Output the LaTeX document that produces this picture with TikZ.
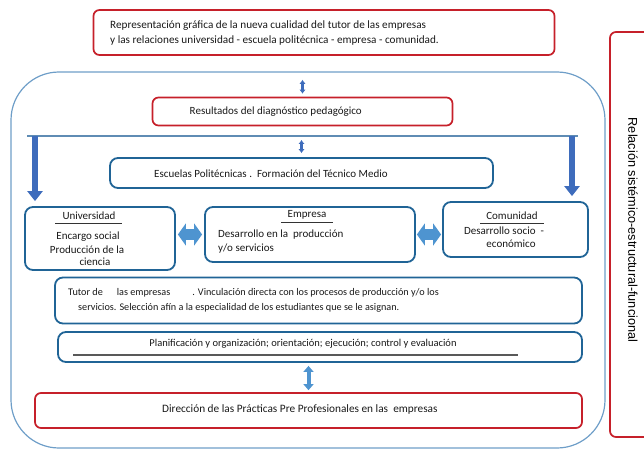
\documentclass[tikz,border=0pt]{standalone}
\usepackage{fontspec}
\setmainfont{Carlito}
\newfontfamily\arialfont{Liberation Sans}
\usetikzlibrary{arrows.meta}

\definecolor{rojocaja}{RGB}{198,32,42}
\definecolor{azulcaja}{RGB}{32,100,150}
\definecolor{azulmarco}{RGB}{110,158,200}
\definecolor{azulflecha}{RGB}{62,108,188}
\definecolor{azulclaro}{RGB}{78,148,208}
\definecolor{grisbarra}{RGB}{95,140,180}

\begin{document}
\begin{tikzpicture}[x=1pt, y=-1pt,
    rojo/.style={draw=rojocaja, line width=1.7pt, rounded corners=6pt, inner sep=0pt},
    azul/.style={draw=azulcaja, line width=1.8pt, rounded corners=8pt, inner sep=0pt},
    texto/.style={inner sep=0pt, text=black!90, font=\fontsize{11}{13}\selectfont},
    subrayado/.style={draw=black!80, line width=0.8pt},
    flechita/.style={draw=azulflecha, line width=2.4pt, {Latex[length=4pt,width=6.5pt]}-{Latex[length=4pt,width=6.5pt]}},
    bajada/.style={draw=azulflecha, line width=6pt, -{Triangle[length=10pt,width=15pt]}},
    gruesa/.style={draw=azulclaro, line width=11pt, {Triangle[length=8pt,width=22pt]}-{Triangle[length=8pt,width=22pt]}}]
    \clip (0,0) rectangle (644,449);

    % marco general
    \draw[azulmarco, line width=1.2pt, rounded corners=48pt] (11,72) rectangle (605,448);
    \draw[rojocaja, line width=1.7pt, rounded corners=6pt] (610,32) rectangle (670,437);
    \node[inner sep=0pt, rotate=-90, text=black, font=\arialfont\fontsize{12.7}{15}\selectfont] (relacion) at (633,230) {Relación sistémico-estructural-funcional};

    % cajas rojas
    \node[rojo, minimum width=461, minimum height=45] (titulo) at (324,32.5) {};
    \node[texto, anchor=west, font=\fontsize{11.2}{13}\selectfont] (titulo1) at (110,26) {Representación gráfica de la nueva cualidad del tutor de las empresas};
    \node[texto, anchor=west, font=\fontsize{11.2}{13}\selectfont] (titulo2) at (110,41) {y las relaciones universidad - escuela politécnica - empresa - comunidad.};

    \node[rojo, minimum width=300, minimum height=28] (resultados) at (302.5,111.5) {};
    \node[texto, anchor=east] (resultadostxt) at (362,112) {Resultados del diagnóstico pedagógico};

    % barra y flechas
    \coordinate (barraI) at (27,136);
    \coordinate (barraD) at (578,136);
    \draw[grisbarra, line width=2.5pt] (barraI) -- (barraD);

    \node[azul, minimum width=383, minimum height=30] (escuelas) at (301.5,173) {};
    \node[texto, anchor=west] (escuelastxt) at (154,174) {Escuelas Politécnicas .\ \ Formación del Técnico Medio};

    \node[azul, minimum width=150, minimum height=63] (univ) at (100,238.5) {};
    \node[texto] (univtit) at (89,216) {Universidad};
    \node[texto] (univ1) at (88,237) {Encargo social};
    \node[texto] (univ2) at (87,249.5) {Producción de la};
    \node[texto] (univ3) at (95,262) {ciencia};

    \node[azul, minimum width=210, minimum height=55] (empresa) at (310,234.5) {};
    \node[texto] (emptit) at (307,215) {Empresa};
    \node[texto, anchor=west] (emp1) at (218,235) {Desarrollo en la\ \ producción};
    \node[texto, anchor=west] (emp2) at (218,249) {y/o servicios};

    \node[azul, minimum width=145, minimum height=55] (comunidad) at (515.5,229.5) {};
    \node[texto] (comtit) at (512,216) {Comunidad};
    \node[texto] (com1) at (504,231) {Desarrollo socio\ \ -};
    \node[texto] (com2) at (511,244) {económico};

    \draw[subrayado] ([xshift=-7pt, yshift=-3pt]univtit.south west) -- ([xshift=6pt, yshift=-3pt]univtit.south east);
    \draw[subrayado] ([xshift=-6pt, yshift=-3pt]emptit.south west) -- ([xshift=6pt, yshift=-3pt]emptit.south east);
    \draw[subrayado] ([xshift=-6pt, yshift=-3pt]comtit.south west) -- ([xshift=6pt, yshift=-3pt]comtit.south east);

    \node[azul, minimum width=527, minimum height=46] (tutor) at (318.5,300.5) {};
    \node[texto, anchor=west, font=\fontsize{10.2}{12}\selectfont] (tutor1) at (68,293) {Tutor de\hspace{14pt}las empresas\hspace{22pt}. Vinculación directa con los procesos de producción y/o los};
    \node[texto, anchor=west, font=\fontsize{10.2}{12}\selectfont] (tutor2) at (78,308) {servicios. Selección afín a la especialidad de los estudiantes que se le asignan.};

    \node[azul, minimum width=524, minimum height=30] (planif) at (320,347) {};
    \node[texto, font=\fontsize{10.5}{12}\selectfont] (planiftxt) at (303,344) {Planificación y organización; orientación; ejecución; control y evaluación};
    \draw[black!65, line width=1.1pt] (73,355) -- (518,355);

    \node[rojo, minimum width=547, minimum height=35] (direccion) at (308.5,410.5) {};
    \node[texto, anchor=west, font=\fontsize{11.3}{13}\selectfont] (direcciontxt) at (162,409) {Dirección de las Prácticas Pre Profesionales en las\ \ empresas};

    % conectores
    \draw[flechita, shorten <=3pt, shorten >=24pt] (resultados.north) -- (resultados.north |- titulo.south);
    \draw[flechita, shorten <=4pt, shorten >=4pt] (escuelas.north) -- (escuelas.north |- barraI);
    \draw[bajada, shorten >=5pt] ([xshift=8pt]barraI) -- ([xshift=8pt]barraI |- univ.north);
    \draw[bajada, shorten >=5pt] ([xshift=-6pt]barraD) -- ([xshift=-6pt]barraD |- comunidad.north);
    \draw[gruesa, shorten <=2pt, shorten >=2pt] (univ.east |- empresa.west) -- (empresa.west);
    \draw[gruesa, shorten <=1pt, shorten >=1pt] (empresa.east) -- (empresa.east -| comunidad.west);
    \draw[draw=azulclaro, line width=4pt, {Triangle[length=6pt,width=10pt]}-{Triangle[length=6pt,width=10pt]}, shorten <=3pt, shorten >=2pt] (direccion.north |- planif.south) -- (direccion.north);
\end{tikzpicture}
\end{document}
